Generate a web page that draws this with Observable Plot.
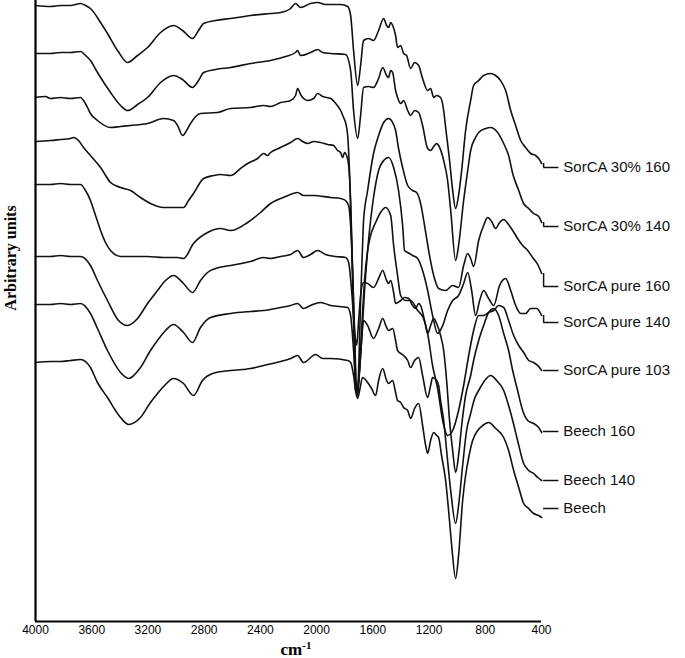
<!DOCTYPE html>
<html><head><meta charset="utf-8">
<script src="https://cdn.jsdelivr.net/npm/d3@7"></script>
<script src="https://cdn.jsdelivr.net/npm/@observablehq/plot@0.6"></script>
<style>body{margin:0;background:#fff}</style>
</head><body><div id="chart"></div>
<script>
// Sample names (top to bottom) and the level of each label leader (arbitrary units, increasing downward)
const names = ["SorCA 30% 160","SorCA 30% 140","SorCA pure 160","SorCA pure 140","SorCA pure 103","Beech 160","Beech 140","Beech"];
const labelLevels = [167, 226, 286, 322, 370, 431, 480, 508];
const xTicks = [4000,3600,3200,2800,2400,2000,1600,1200,800,400];

// [wavenumber cm-1, offset intensity (arbitrary units, downward)]
const sorca30_160 = [[4000,5],[3893,6],[3822,5],[3751,5],[3680,3],[3644,5],[3609,8],[3537,22],[3488,33],[3416,50],[3345,62],[3274,55],[3203,47],[3110,32],[3018,25],[2954,30],[2883,38],[2840,30],[2804,23],[2719,20],[2612,18],[2470,15],[2328,13],[2256,12],[2185,8],[2150,3],[2114,7],[2043,3],[1993,2],[1936,4],[1829,4],[1779,6],[1758,15],[1737,50],[1708,85],[1687,65],[1666,40],[1630,38],[1595,40],[1559,30],[1523,18],[1502,25],[1488,27],[1473,22],[1459,25],[1438,35],[1424,47],[1402,45],[1381,53],[1360,55],[1331,68],[1303,62],[1274,65],[1246,78],[1210,90],[1189,88],[1167,97],[1146,95],[1118,97],[1096,110],[1082,127],[1054,160],[1032,190],[1011,208],[990,195],[968,170],[940,130],[904,100],[883,85],[847,80],[812,75],[762,73],[726,75],[691,80],[655,90],[619,110],[584,125],[548,140],[513,147],[477,153],[442,155],[420,158],[399,163]];
const sorca30_140 = [[4000,53],[3893,53],[3822,52],[3751,52],[3680,51],[3644,55],[3609,60],[3559,72],[3466,92],[3395,105],[3345,110],[3274,104],[3203,97],[3110,82],[3018,75],[2954,79],[2883,87],[2840,80],[2804,72],[2719,69],[2612,67],[2470,63],[2328,60],[2221,56],[2150,52],[2135,50],[2114,55],[2043,52],[1993,49],[1957,52],[1900,53],[1794,54],[1758,70],[1737,110],[1708,138],[1687,115],[1666,87],[1630,86],[1595,87],[1559,78],[1530,67],[1502,75],[1488,77],[1473,70],[1459,72],[1438,90],[1424,97],[1402,103],[1381,100],[1352,110],[1331,115],[1303,110],[1274,112],[1246,125],[1210,148],[1189,150],[1167,146],[1146,143],[1132,145],[1096,160],[1068,180],[1046,210],[1011,260],[990,245],[954,200],[925,170],[904,150],[869,137],[847,132],[797,128],[762,127],[712,132],[669,143],[634,155],[605,173],[562,190],[527,203],[491,208],[456,213],[420,216],[399,222]];
const sorcaPure160 = [[4000,97],[3929,96],[3893,98],[3822,97],[3751,98],[3680,97],[3658,100],[3630,107],[3609,113],[3559,120],[3466,127],[3395,126],[3324,125],[3203,123],[3089,118],[3018,120],[2989,125],[2954,135],[2925,130],[2897,123],[2826,113],[2705,112],[2612,108],[2470,107],[2377,105],[2328,106],[2256,102],[2185,100],[2150,95],[2135,88],[2114,94],[2100,97],[2064,100],[2021,98],[1993,93],[1957,96],[1900,98],[1858,104],[1829,110],[1808,117],[1794,122],[1779,135],[1765,175],[1751,240],[1737,320],[1723,390],[1708,393],[1701,370],[1687,300],[1673,245],[1666,220],[1637,190],[1595,153],[1559,135],[1523,122],[1488,118],[1459,122],[1438,130],[1417,148],[1388,167],[1352,185],[1317,190],[1289,192],[1260,203],[1232,225],[1203,250],[1167,275],[1132,288],[1082,290],[1032,285],[990,287],[954,265],[925,253],[904,258],[883,266],[847,240],[812,225],[783,217],[755,221],[726,228],[698,222],[669,219],[634,224],[605,230],[570,238],[534,245],[498,250],[463,257],[427,264],[399,273]];
const sorcaPure140 = [[4000,141],[3893,140],[3822,139],[3751,138],[3730,137],[3694,140],[3658,147],[3609,155],[3537,167],[3466,182],[3395,187],[3324,190],[3253,197],[3182,203],[3089,207],[3004,207],[2947,207],[2911,200],[2876,193],[2804,178],[2733,175],[2683,174],[2612,175],[2541,168],[2491,163],[2420,158],[2377,153],[2349,155],[2328,152],[2256,147],[2185,142],[2135,138],[2100,141],[2064,143],[2021,141],[1972,142],[1922,144],[1879,145],[1851,150],[1829,152],[1815,157],[1801,152],[1787,155],[1772,165],[1758,200],[1744,270],[1730,340],[1715,395],[1701,380],[1680,340],[1659,290],[1637,250],[1616,220],[1595,197],[1559,170],[1523,160],[1488,157],[1452,167],[1417,190],[1388,225],[1374,250],[1352,252],[1317,255],[1281,258],[1246,270],[1210,290],[1175,315],[1139,333],[1103,325],[1068,310],[1032,300],[990,295],[954,283],[925,272],[897,290],[869,315],[840,300],[812,290],[776,298],[740,305],[698,285],[655,278],[619,290],[584,305],[548,313],[513,313],[477,308],[435,308],[399,315]];
const sorcaPure103 = [[4000,184],[3893,184],[3822,183],[3751,184],[3680,184],[3644,190],[3609,200],[3573,215],[3537,230],[3502,242],[3466,250],[3395,256],[3288,256],[3203,256],[3089,257],[2989,257],[2947,258],[2876,243],[2776,232],[2683,228],[2612,230],[2491,222],[2399,212],[2328,203],[2221,196],[2135,192],[2093,195],[2021,195],[1900,197],[1829,198],[1794,200],[1772,205],[1758,225],[1744,270],[1730,330],[1715,393],[1701,380],[1680,330],[1659,280],[1637,250],[1616,235],[1580,222],[1545,212],[1509,207],[1473,215],[1452,245],[1424,275],[1402,295],[1367,300],[1331,300],[1281,310],[1239,318],[1210,333],[1175,365],[1139,388],[1103,420],[1068,435],[1032,430],[990,410],[954,385],[918,355],[883,330],[847,315],[812,315],[776,312],[740,310],[705,305],[669,307],[634,320],[598,335],[562,345],[527,352],[491,360],[456,362],[420,366],[399,370]];
const beech160 = [[4000,256],[3893,256],[3822,255],[3751,256],[3680,256],[3609,265],[3559,280],[3488,300],[3409,320],[3345,325],[3274,318],[3203,303],[3132,290],[3075,280],[3018,275],[2947,283],[2883,292],[2826,280],[2776,272],[2719,268],[2612,265],[2470,261],[2377,257],[2328,258],[2256,256],[2185,254],[2135,250],[2093,257],[2043,254],[1993,250],[1936,254],[1865,256],[1794,257],[1772,262],[1751,290],[1730,330],[1715,345],[1701,320],[1687,295],[1666,282],[1637,283],[1595,287],[1559,278],[1530,270],[1502,280],[1488,283],[1473,280],[1452,292],[1438,303],[1402,300],[1374,297],[1345,298],[1317,305],[1296,308],[1274,303],[1260,305],[1232,320],[1210,333],[1189,325],[1167,318],[1146,323],[1118,335],[1096,350],[1075,380],[1054,420],[1032,450],[1011,472],[990,455],[968,425],[940,395],[904,375],[883,360],[847,340],[812,325],[776,312],[740,308],[705,315],[669,333],[634,350],[605,370],[570,390],[534,410],[498,420],[456,423],[420,427],[399,432]];
const beech140 = [[4000,304],[3893,304],[3822,303],[3751,304],[3680,303],[3609,313],[3559,328],[3488,350],[3395,372],[3338,378],[3253,367],[3182,350],[3132,340],[3075,330],[3018,324],[2947,332],[2883,342],[2826,327],[2755,317],[2612,313],[2470,311],[2377,310],[2256,307],[2185,305],[2135,303],[2093,308],[2043,305],[1972,302],[1900,305],[1779,307],[1758,315],[1737,350],[1723,380],[1708,395],[1694,370],[1680,340],[1666,320],[1637,325],[1595,338],[1559,328],[1530,318],[1502,327],[1488,330],[1459,328],[1438,340],[1424,350],[1381,355],[1352,360],[1331,367],[1303,360],[1274,357],[1246,375],[1210,397],[1189,385],[1175,377],[1146,380],[1132,385],[1118,400],[1096,420],[1075,450],[1046,490],[1011,523],[990,505],[961,465],[933,430],[904,413],[876,398],[847,390],[804,380],[762,375],[719,380],[669,390],[634,405],[605,420],[570,440],[527,463],[491,470],[456,473],[427,477],[399,480]];
const beech = [[4000,362],[3893,361],[3822,361],[3751,360],[3680,359],[3609,367],[3559,382],[3488,397],[3395,417],[3338,424],[3253,417],[3182,402],[3132,393],[3075,384],[3018,378],[2947,383],[2876,395],[2812,380],[2740,373],[2612,370],[2470,368],[2377,365],[2256,361],[2185,358],[2135,355],[2093,362],[2007,354],[1957,358],[1900,358],[1779,360],[1758,362],[1737,375],[1723,390],[1708,398],[1694,390],[1673,377],[1637,382],[1609,388],[1580,395],[1559,380],[1530,368],[1502,380],[1488,383],[1459,380],[1438,392],[1424,400],[1402,402],[1381,407],[1352,410],[1331,418],[1303,408],[1274,403],[1246,425],[1224,445],[1210,453],[1189,440],[1167,432],[1146,435],[1132,437],[1111,455],[1082,480],[1061,510],[1039,545],[1011,578],[990,555],[961,500],[940,475],[918,457],[890,440],[854,430],[819,425],[776,422],[726,428],[669,437],[634,450],[598,470],[562,487],[527,503],[491,508],[456,513],[420,515],[399,517]];

const series = [sorca30_160, sorca30_140, sorcaPure160, sorcaPure140, sorcaPure103, beech160, beech140, beech];
const rows = series.flatMap((s, i) => s.map(([wn, v]) => ({wn, v, name: names[i]})));
const labels = names.map((name, i) => ({name, v: labelLevels[i], end: series[i][series[i].length - 1][1]}));
// small vertical ticks joining a spectrum's end to its label leader (not for "Beech", which is drawn apart)
const joins = labels.filter(d => d.name !== "Beech");

const plot = Plot.plot({
  width: 685,
  height: 658,
  marginLeft: 35,
  marginRight: 144,
  marginTop: 0,
  marginBottom: 37,
  x: {domain: [4000, 400]},
  y: {domain: [0, 621], reverse: true, axis: null},
  style: {fontFamily: "'Liberation Sans', Arial, sans-serif", background: "#fff", color: "#000", overflow: "visible"},
  marks: [
    Plot.line(rows, {x: "wn", y: "v", z: "name", stroke: "#111", strokeWidth: 1.6, curve: "monotone-x"}),
    Plot.ruleX([4000], {stroke: "#000", strokeWidth: 2.2}),
    Plot.ruleY([621], {stroke: "#000", strokeWidth: 2.2}),
    Plot.axisX({ticks: xTicks, tickSize: 0, tickPadding: 4, fontSize: 12, tickFormat: d => String(d), label: null}),
    Plot.ruleX(joins, {x: 385, y1: "end", y2: "v", stroke: "#111", strokeWidth: 1.5}),
    Plot.ruleY(labels, {y: "v", x1: 385, x2: 276, stroke: "#111", strokeWidth: 1.5}),
    Plot.text(labels, {x: 245, y: "v", text: "name", textAnchor: "start", fontSize: 15, fill: "#111"})
  ]
});
document.getElementById("chart").appendChild(plot);

// Axis titles (real text)
const svg = d3.select(plot);
const xl = svg.append("text")
  .attr("x", 296).attr("y", 655)
  .attr("text-anchor", "middle")
  .attr("font-family", "'Liberation Serif', 'Times New Roman', serif")
  .attr("font-weight", "bold").attr("font-size", 17).attr("fill", "#000");
xl.append("tspan").text("cm");
xl.append("tspan").attr("dy", -6).attr("font-size", 11).text("-1");
svg.append("text")
  .attr("transform", "translate(16,258) rotate(-90)")
  .attr("text-anchor", "middle")
  .attr("font-family", "'Liberation Serif', 'Times New Roman', serif")
  .attr("font-weight", "bold").attr("font-size", 16).attr("fill", "#000")
  .text("Arbitrary units");
</script>
</body></html>
